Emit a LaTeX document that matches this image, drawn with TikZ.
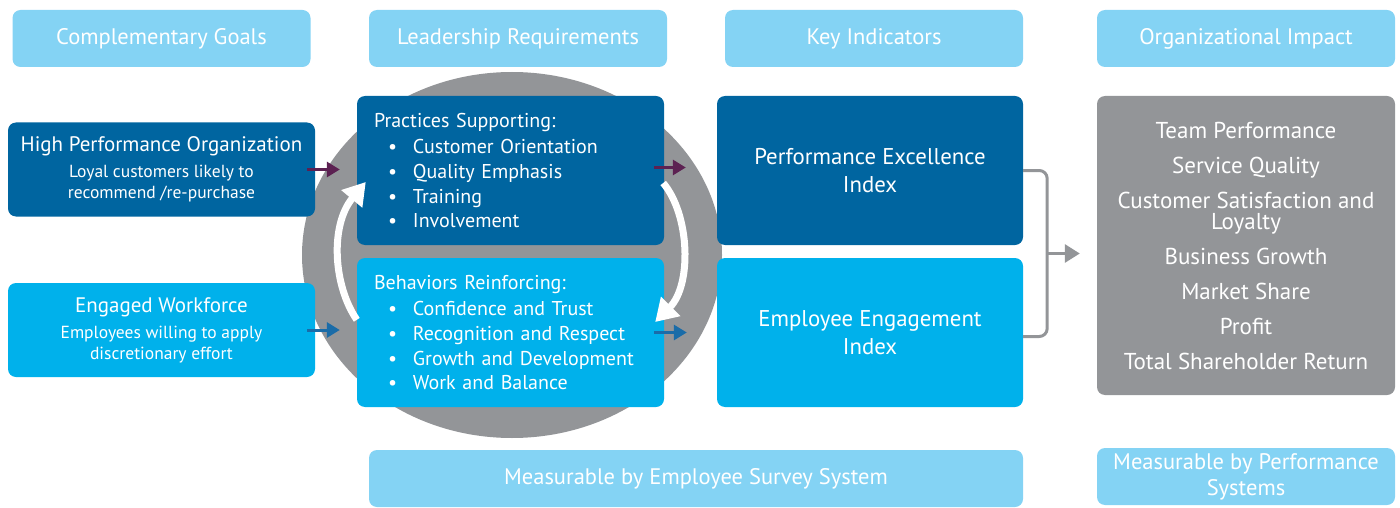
\documentclass[tikz,border=0pt]{standalone}
\usepackage{fontspec}
\setmainfont{PT Sans}
\usetikzlibrary{positioning, arrows.meta, calc}
\definecolor{darkblue}{HTML}{0065A0}
\definecolor{brightblue}{HTML}{00B1EB}
\definecolor{headblue}{HTML}{84D3F4}
\definecolor{ringgrey}{HTML}{939598}
\definecolor{plum}{HTML}{5C2152}
\definecolor{arrowblue}{HTML}{1A6CA8}
\newcommand{\itm}[1]{\hspace*{14pt}\makebox[25pt][l]{\textbullet}#1}
\newcommand{\impactfont}{\fontsize{23}{21}\selectfont\lineskiplimit=-50pt\relax}

\begin{document}
\begin{tikzpicture}[x=1pt, y=-1pt,
	header/.style={fill=headblue, rounded corners=8pt, minimum width=298pt, minimum height=57pt, text=white, font=\fontsize{22.5}{24}\selectfont},
	goalbox/.style={rounded corners=8pt, minimum width=307pt, minimum height=94pt, text=white, align=center, font=\fontsize{17.5}{21}\selectfont},
	listbox/.style={rounded corners=8pt, minimum width=307pt, minimum height=149pt, text=white, align=left, text width=273pt, inner xsep=17pt, font=\fontsize{20}{24.7}\selectfont},
	indexbox/.style={rounded corners=8pt, minimum width=306pt, minimum height=149pt, text=white, align=center, font=\fontsize{22.8}{28}\selectfont},
	feed/.style={line width=3pt, -{Triangle[length=13pt, width=15pt]}},
	loop/.style={white, line width=7pt, -{Triangle[length=22pt, width=26pt]}}]
	\useasboundingbox (0,0) rectangle (1400,508);
	
	% Column headers
	\node[header] (hGoals) at (161.5,38.5) {Complementary Goals};
	\node[header] (hLead) at (518,38.5) {Leadership Requirements};
	\node[header] (hKey) at (874,38.5) {Key Indicators};
	\node[header] (hImpact) at (1246,38.5) {Organizational Impact};
	
	% Grey ring behind the leadership boxes
	\fill[ringgrey] (512,255) ellipse [x radius=210, y radius=183];
	
	% Goals
	\node[goalbox, fill=darkblue] (hpo) at (161.5,169.5)
		{{\fontsize{21}{21}\selectfont High Performance Organization}\\[5pt]Loyal customers likely to\\recommend /re-purchase};
	\node[goalbox, fill=brightblue] (ew) at (161.5,330)
		{{\fontsize{21}{21}\selectfont Engaged Workforce}\\[5pt]Employees willing to apply\\discretionary effort};
	
	% Leadership requirements
	\node[listbox, fill=darkblue] (prac) at (510.5,170.5)
		{Practices Supporting:\\[2pt]\itm{Customer Orientation}\\\itm{Quality Emphasis}\\\itm{Training}\\\itm{Involvement}};
	\node[listbox, fill=brightblue] (behav) at (510.5,332.5)
		{Behaviors Reinforcing:\\[2pt]\itm{Confidence and Trust}\\\itm{Recognition and Respect}\\\itm{Growth and Development}\\\itm{Work and Balance}};
	
	% Key indicators
	\node[indexbox, fill=darkblue] (pei) at (870,170.5) {Performance Excellence\\Index};
	\node[indexbox, fill=brightblue] (eei) at (870,332.5) {Employee Engagement\\Index};
	
	% Organizational impact
	\node[rounded corners=8pt, fill=ringgrey, minimum width=298pt, minimum height=299pt, text=white, align=center,
		font=\impactfont] (impact) at (1246,245.5)
		{Team Performance\\[14pt]Service Quality\\[14pt]Customer Satisfaction and\\Loyalty\\[14pt]Business Growth\\[14pt]Market Share\\[14pt]Profit\\[14pt]Total Shareholder Return};
	
	% Measurement
	\node[header, minimum width=654pt] (survey) at (696,478.5) {Measurable by Employee Survey System};
	\node[header, align=center, font=\fontsize{22.5}{26}\selectfont] (perfsys) at (1246,476.5) {Measurable by Performance\\Systems};
	
	% Feed arrows
	\draw[feed, plum, shorten <=-8pt, shorten >=17pt] (hpo.east) -- (hpo.east -| prac.west);
	\draw[feed, arrowblue, shorten <=-8pt, shorten >=17pt] (ew.east) -- (ew.east -| behav.west);
	\draw[feed, plum, shorten <=-10pt, shorten >=31pt] ([yshift=3pt]prac.east) -- ([yshift=3pt]prac.east -| pei.west);
	\draw[feed, arrowblue, shorten <=-10pt, shorten >=30pt] (behav.east) -- (behav.east -| eei.west);
	
	% Reinforcing loop
	\draw[loop] ($(behav.north west)+(0,62)$) .. controls (333,285) and (330,225) .. ($(prac.west)+(9,11.5)$);
	\draw[loop] ($(prac.east)+(-1,12.5)$) .. controls (690,215) and (692,285) .. ($(behav.east)+(-9,-10.5)$);
	
	% Bracket into impact
	\draw[ringgrey, line width=3pt, rounded corners=8pt] (pei.east) -- ++(24,0) coordinate (brk) |- ($(eei.east)+(0,4)$);
	\coordinate (mid) at ($(pei.east)!0.5!(eei.east)+(0,2)$);
	\draw[ringgrey, line width=3pt, -{Triangle[length=15pt, width=18pt]}, shorten >=17pt] (mid -| brk) -- (mid -| impact.west);
\end{tikzpicture}
\end{document}
